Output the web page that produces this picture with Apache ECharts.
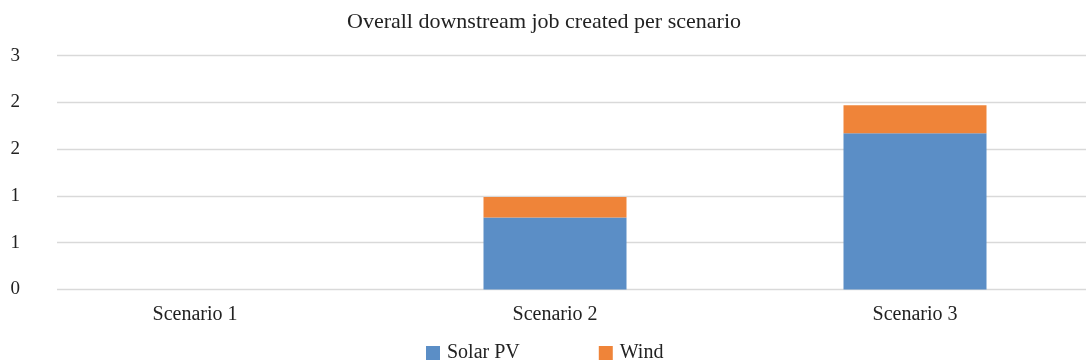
<!DOCTYPE html>
<html>
<head>
<meta charset="utf-8">
<script src="https://cdn.jsdelivr.net/npm/echarts@6/dist/echarts.min.js"></script>
<style>
  html, body { margin: 0; padding: 0; background: #fff; overflow: hidden; }
  #chart { width: 1095px; height: 364px; }
</style>
</head>
<body>
<div id="chart"></div>
<script>
// Downstream jobs created, stacked by technology
const categories = ['Scenario 1', 'Scenario 2', 'Scenario 3'];
const solarPV = [0, 0.77, 1.67];
const wind = [0, 0.22, 0.30];
const yTicks = { min: 0, max: 2.5, interval: 0.5 };

const FONT = '"Liberation Serif", "DejaVu Serif", serif';
const chart = echarts.init(document.getElementById('chart'));

chart.setOption({
  animation: false,
  textStyle: { fontFamily: FONT },
  title: {
    text: 'Overall downstream job created per scenario',
    left: 342,
    top: 6,
    textStyle: { fontFamily: FONT, fontWeight: 'normal', fontSize: 22, color: '#222' }
  },
  legend: {
    left: 421,
    top: 338,
    itemWidth: 14,
    itemHeight: 14,
    itemGap: 79,
    icon: 'rect',
    textStyle: { fontFamily: FONT, fontSize: 20, color: '#222', padding: [0, 0, 0, 2] },
    data: ['Solar PV', 'Wind']
  },
  grid: [
    // value scale with gridlines
    { left: 57, right: 9, top: 55.7, bottom: 74.5 },
    // category bands for the bars
    { left: 15, right: 0, top: 55.7, bottom: 74.5 }
  ],
  xAxis: [
    { gridIndex: 0, type: 'category', data: categories, show: false },
    {
      gridIndex: 1,
      type: 'category',
      data: categories,
      axisLine: { show: false },
      axisTick: { show: false },
      axisLabel: { margin: 15, fontFamily: FONT, fontSize: 20, color: '#222' }
    }
  ],
  yAxis: [
    {
      gridIndex: 0,
      type: 'value',
      min: yTicks.min,
      max: yTicks.max,
      interval: yTicks.interval,
      axisLine: { show: false },
      axisTick: { show: false },
      splitLine: { lineStyle: { color: '#d9d9d9', width: 1.3 } },
      axisLabel: {
        margin: 37,
        fontFamily: FONT,
        fontSize: 19,
        color: '#222',
        formatter: v => String(Math.round(v))
      }
    },
    {
      gridIndex: 1,
      type: 'value',
      min: yTicks.min,
      max: yTicks.max,
      interval: yTicks.interval,
      show: false,
      splitLine: { show: false }
    }
  ],
  series: [
    {
      name: 'Solar PV',
      type: 'bar',
      stack: 'jobs',
      xAxisIndex: 1,
      yAxisIndex: 1,
      barWidth: 143,
      itemStyle: { color: '#5B8EC6' },
      data: solarPV
    },
    {
      name: 'Wind',
      type: 'bar',
      stack: 'jobs',
      xAxisIndex: 1,
      yAxisIndex: 1,
      barWidth: 143,
      itemStyle: { color: '#EF8439' },
      data: wind
    }
  ]
});
</script>
</body>
</html>
